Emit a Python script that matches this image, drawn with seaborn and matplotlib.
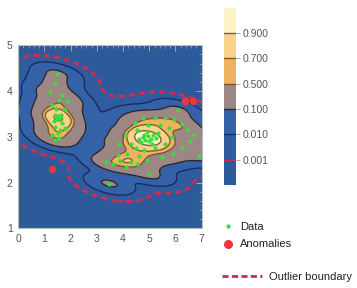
import numpy as np
import pandas as pd
import seaborn as sns
import matplotlib
matplotlib.use("Agg")
import matplotlib.pyplot as plt
from matplotlib.colors import ListedColormap, BoundaryNorm
from matplotlib.colorbar import ColorbarBase
from matplotlib.lines import Line2D

# ---- data ----
data_x = [1.49, 1.40, 1.22, 1.66, 1.57, 1.85, 1.30, 1.75, 1.45, 1.42, 1.50, 1.58,
          1.47, 1.55, 1.62, 1.35, 1.68, 1.40, 1.60, 1.50, 1.30, 1.55, 1.42, 1.80,
          3.47, 5.00, 6.10, 6.90,
          3.35, 3.60, 3.90, 4.10, 4.30, 4.55, 3.80, 4.15, 4.60, 4.90, 5.50, 5.90,
          6.25, 6.55, 6.70, 6.45, 6.25, 5.95, 5.60, 5.20, 4.75, 4.45, 4.10, 3.85,
          4.30, 4.50, 4.80, 5.20, 5.60, 5.85, 5.75, 5.40, 4.95, 4.55,
          4.60, 4.75, 4.85, 4.95, 5.05, 5.15, 5.25, 4.90, 5.10, 4.70, 5.35, 4.80, 5.00]
data_y = [4.38, 4.18, 3.98, 3.92, 3.80, 3.78, 3.70, 3.60, 3.60, 3.47, 3.45, 3.43,
          3.40, 3.38, 3.47, 3.35, 3.30, 3.22, 3.15, 3.08, 3.05, 2.98, 2.92, 3.20,
          1.98, 2.18, 3.58, 2.58,
          2.45, 2.40, 2.48, 2.35, 2.45, 2.40, 2.60, 2.62, 2.58, 2.50, 2.55, 2.62,
          2.75, 2.90, 3.05, 3.15, 3.28, 3.38, 3.40, 3.40, 3.40, 3.30, 3.05, 2.85,
          2.85, 2.75, 2.72, 2.75, 2.85, 3.00, 3.20, 3.25, 3.25, 3.15,
          2.95, 3.00, 2.92, 3.02, 2.95, 3.05, 2.98, 3.10, 2.85, 2.88, 3.08, 3.05, 2.90]
anom_x = [1.30, 6.37, 6.68]
anom_y = [2.29, 3.78, 3.78]

levels = [0.001, 0.01, 0.1, 0.5, 0.7, 0.9]
level_labels = ["0.001", "0.010", "0.100", "0.500", "0.700", "0.900"]
fill_colors = ["#2d5a9b", "#2e5c9f", "#3462a9", "#9c8784", "#efb260", "#f8d288", "#fdf1c6"]
line_colors = ["#c8304e", "#1b2b5e", "#2a2630", "#6e5638", "#7a5e36", "#7a6040"]
green = "#3ddc3d"
red = "#e8383c"
bw_narrow, bw_wide, wide_weight = 0.52, 0.9, 0.13

sns.set_theme(style="white")
plt.rcParams['font.family'] = ['Liberation Sans', 'DejaVu Sans']

fig = plt.figure(figsize=(3.57, 2.88), dpi=100)
ax = fig.add_axes([0.051, 0.207, 0.514, 0.636])
ax.set_facecolor(fill_colors[0])

# ---- kernel density (two-bandwidth Gaussian mixture, Scott-scaled) ----
px = np.asarray(data_x)
py = np.asarray(data_y)
pts = np.vstack([px, py])
n = pts.shape[1]
gx = np.linspace(-3.0, 10.0, 460)
gy = np.linspace(-1.0, 7.0, 360)
XX, YY = np.meshgrid(gx, gy)
dx = XX[..., None] - px
dy = YY[..., None] - py
base_cov = np.cov(pts)
dens = np.zeros_like(XX)
for bw, w in [(bw_narrow, 1 - wide_weight), (bw_wide, wide_weight)]:
    f = n ** (-1.0 / 6.0) * bw
    inv = np.linalg.inv(base_cov * f ** 2)
    q = inv[0, 0] * dx * dx + 2 * inv[0, 1] * dx * dy + inv[1, 1] * dy * dy
    dens += w / f ** 2 * np.exp(-0.5 * q).sum(axis=-1)

# iso-proportion levels (fraction of probability mass below each contour)
vals = np.sort(dens.ravel())[::-1]
cum = np.cumsum(vals) / vals.sum()
dlev = [vals[np.searchsorted(cum, 1 - p)] for p in levels]

ax.contourf(XX, YY, dens, levels=dlev + [dens.max() * 1.01], colors=fill_colors[1:])
ax.contour(XX, YY, dens, levels=dlev[1:], colors=line_colors[1:], linewidths=1.0)
ax.contour(XX, YY, dens, levels=[dlev[0]], colors=[line_colors[0]], linewidths=2.2,
           linestyles=[(0, (2.0, 1.3))])

sns.scatterplot(x=px, y=py, color=green, s=9, linewidth=0, ax=ax, zorder=5)
sns.scatterplot(x=anom_x, y=anom_y, color=red, s=30, linewidth=0, ax=ax, zorder=5)

ax.set_xlim(0, 7)
ax.set_ylim(1, 5)
ax.set_xlabel("")
ax.set_ylabel("")
ax.set_xticks(range(0, 8))
ax.set_yticks(range(1, 6))
ax.set_xticks(np.arange(0, 7.01, 0.2), minor=True)
ax.set_yticks(np.arange(1, 5.01, 0.2), minor=True)
ax.tick_params(which="both", direction="in", top=True, right=True, color="#aaaaaa",
               labelsize=7.5, labelcolor="#555555", pad=4)
ax.tick_params(which="major", length=4, width=0.7)
ax.tick_params(which="minor", length=2, width=0.5)
for s in ax.spines.values():
    s.set_color("#bbbbbb")
    s.set_linewidth(0.8)

# ---- colorbar ----
cax = fig.add_axes([0.627, 0.358, 0.034, 0.615])
cb = ColorbarBase(cax, cmap=ListedColormap(fill_colors), norm=BoundaryNorm(range(8), 7),
                  ticks=range(1, 7))
cb.set_ticklabels(level_labels)
cb.outline.set_visible(False)
cax.minorticks_off()
for i, c in enumerate(line_colors):
    cax.axhline(i + 1, color=c, lw=1.0)
cax.tick_params(which="both", length=3, width=0.6, color="#999999", labelsize=7.5,
                labelcolor="#555555", pad=2)

# ---- legends ----
h1 = [Line2D([], [], ls="", marker="o", ms=3, color=green, mec="none", label="Data"),
      Line2D([], [], ls="", marker="o", ms=6.5, color=red, mec="none", label="Anomalies")]
leg1 = fig.legend(handles=h1, loc="upper left", bbox_to_anchor=(0.595, 0.265), frameon=False,
                  fontsize=8, handlelength=1.0, handletextpad=0.6, labelspacing=0.7,
                  labelcolor="#222222")
h2 = [Line2D([], [], color=line_colors[0], lw=2, ls=(0, (2.2, 1.2)), label="Outlier boundary")]
leg2 = fig.legend(handles=h2, loc="upper left", bbox_to_anchor=(0.595, 0.09), frameon=False,
                  fontsize=8, handlelength=3.6, handletextpad=0.6, labelcolor="#222222")

fig.savefig("out.png", dpi=100)
